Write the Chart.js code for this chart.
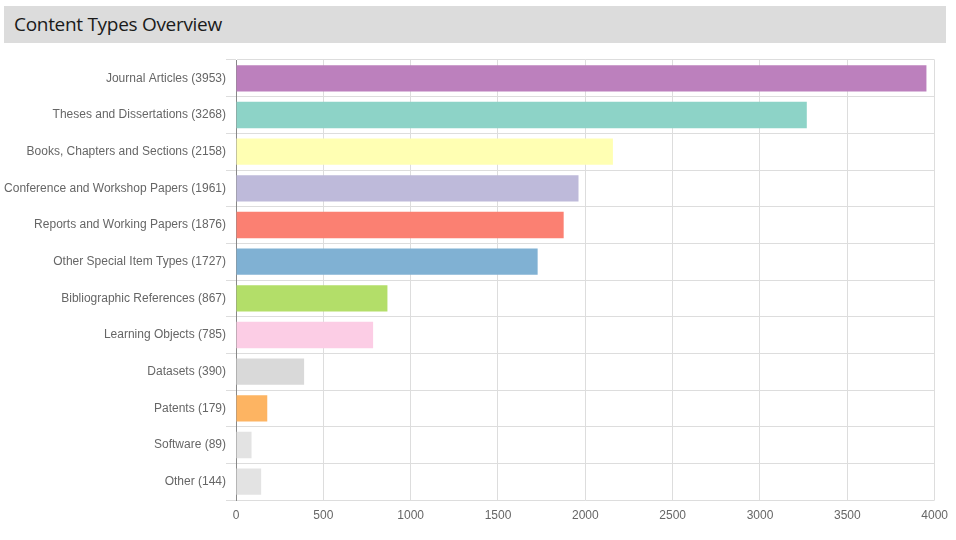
<!DOCTYPE html>
<html>
<head>
<meta charset="utf-8">
<script src="https://cdn.jsdelivr.net/npm/chart.js@4"></script>
<style>
  body { margin: 0; background: #fff; }
  #wrap { position: relative; width: 956px; height: 540px; }
  #title {
    position: absolute; left: 4px; top: 6px; width: 942px; height: 37px;
    background: #dcdcdc; color: #1a1a1a;
    font-family: "Open Sans", sans-serif; font-size: 19px;
    line-height: 37px; padding-left: 10px; box-sizing: border-box;
    letter-spacing: -0.3px;
  }
  #myChart { position: absolute; left: 0; top: 0; }
</style>
</head>
<body>
<div id="wrap">
  <canvas id="myChart" width="956" height="540"></canvas>
  <div id="title">Content Types Overview</div>
</div>
<script>
var names = ["Journal Articles", "Theses and Dissertations", "Books, Chapters and Sections",
  "Conference and Workshop Papers", "Reports and Working Papers", "Other Special Item Types",
  "Bibliographic References", "Learning Objects", "Datasets", "Patents", "Software", "Other"];
var counts = [3953, 3268, 2158, 1961, 1876, 1727, 867, 785, 390, 179, 89, 144];
var colors = ["#bc80bd", "#8dd3c7", "#ffffb3", "#bebada", "#fb8072", "#80b1d3",
  "#b3de69", "#fccde5", "#d9d9d9", "#fdb462", "#e3e3e3", "#e3e3e3"];
var xTicks = [0, 500, 1000, 1500, 2000, 2500, 3000, 3500, 4000];

const ctx = document.getElementById('myChart');

const labels = names.map((n, i) => n + " (" + counts[i] + ")");

var myChart = new Chart(ctx, {
  type: 'bar',
  data: {
    labels: labels,
    datasets: [{
      data: counts,
      backgroundColor: colors,
      borderWidth: 0,
      categoryPercentage: 0.8,
      barPercentage: 0.9
    }]
  },
  options: {
    indexAxis: 'y',
    responsive: false,
    animation: false,
    layout: { padding: { top: 60, left: 4, right: 14, bottom: 0 } },
    plugins: { legend: { display: false }, tooltip: { enabled: false } },
    scales: {
      x: {
        min: 0,
        max: xTicks[xTicks.length - 1],
        afterBuildTicks: (s) => { s.ticks = xTicks.map(v => ({ value: v })); },
        afterFit: (s) => { s.height = 40; },
        grid: { color: '#dddddd', drawTicks: false },
        border: { display: false },
        ticks: {
          color: '#666', padding: 8, font: { family: 'Liberation Sans, Arial', size: 12 },
          callback: (v) => String(v)
        }
      },
      y: {
        afterFit: (s) => { s.width = 232; },
        grid: { color: '#dddddd', offset: true, tickLength: 10 },
        border: { color: '#888888' },
        ticks: { color: '#666', padding: 0, font: { family: 'Liberation Sans, Arial', size: 12 } }
      }
    }
  }
});
</script>
</body>
</html>
